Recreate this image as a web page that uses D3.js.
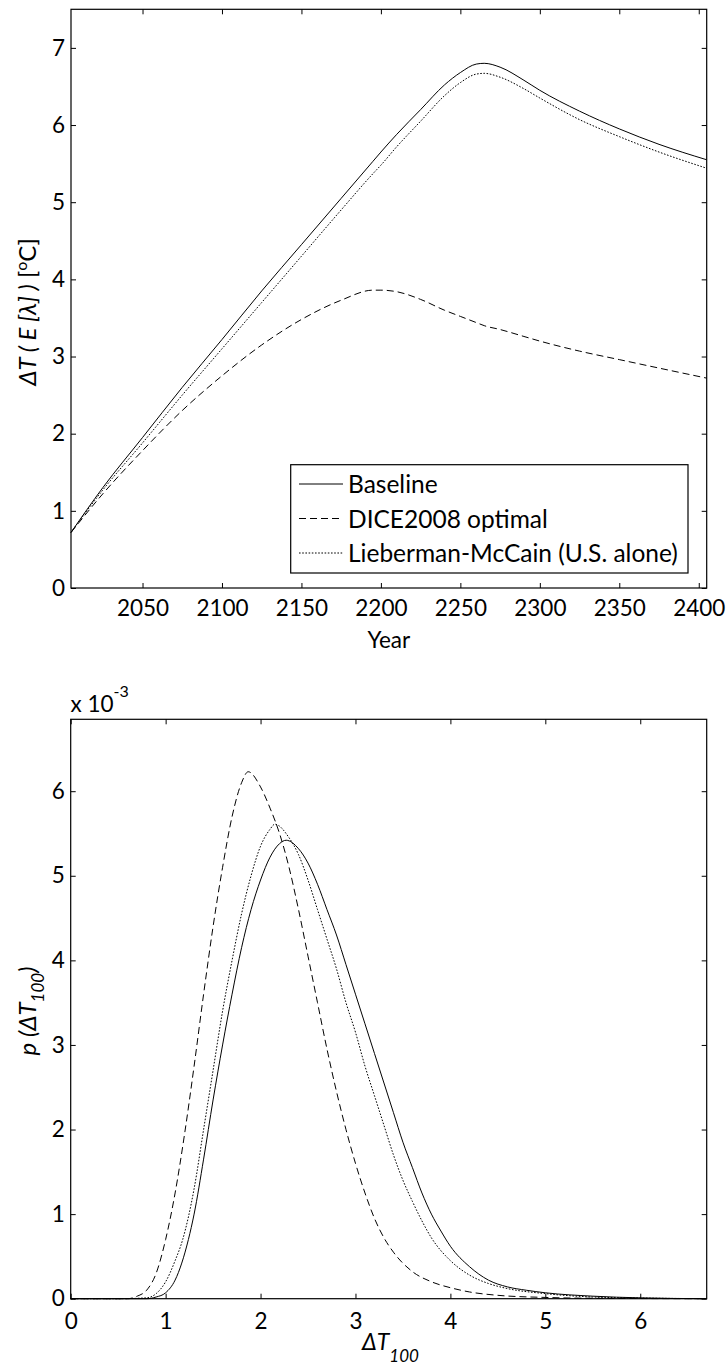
<!DOCTYPE html>
<html>
<head>
<meta charset="utf-8">
<script src="https://cdn.jsdelivr.net/npm/d3@7"></script>
<style>
  body { margin: 0; background: #fff; }
  text { font-family: Lato, "Noto Sans", sans-serif; fill: #000; }
</style>
</head>
<body>
<div id="chart"></div>
<script>
// top panel: temperature path by year
var years = [2005, 2025, 2050, 2075, 2100, 2125, 2150, 2175, 2195, 2200, 2210, 2225, 2240, 2250, 2260, 2265, 2275, 2290, 2300, 2325, 2350, 2375, 2405];
var baseline = [0.72, 1.30, 1.95, 2.60, 3.22, 3.85, 4.45, 5.05, 5.53, 5.65, 5.88, 6.20, 6.52, 6.68, 6.79, 6.80, 6.75, 6.58, 6.45, 6.18, 5.95, 5.75, 5.55];
var dice = [0.72, 1.22, 1.78, 2.30, 2.75, 3.15, 3.48, 3.73, 3.86, 3.86, 3.84, 3.74, 3.60, 3.52, 3.44, 3.40, 3.35, 3.26, 3.20, 3.07, 2.96, 2.85, 2.72];
var lieberman = [0.72, 1.27, 1.88, 2.50, 3.10, 3.70, 4.30, 4.90, 5.37, 5.48, 5.72, 6.05, 6.38, 6.55, 6.66, 6.67, 6.62, 6.47, 6.35, 6.07, 5.85, 5.65, 5.44];
var topYTicks = [0, 1, 2, 3, 4, 5, 6, 7];
var topXTicks = [2050, 2100, 2150, 2200, 2250, 2300, 2350, 2400];
var legendLabels = ["Baseline", "DICE2008 optimal", "Lieberman-McCain (U.S. alone)"];

// bottom panel: densities (x 10^-3)
var tBase = [0, 0.5, 0.8, 0.9, 1.0, 1.1, 1.24, 1.3, 1.4, 1.5, 1.6, 1.7, 1.8, 1.9, 2.0, 2.1, 2.2, 2.27, 2.4, 2.5, 2.6, 2.7, 2.8, 2.9, 3.0, 3.1, 3.2, 3.3, 3.4, 3.5, 3.6, 3.7, 3.8, 3.9, 4.0, 4.2, 4.4, 4.6, 4.8, 5.0, 5.5, 6.0, 6.7];
var pBase = [0, 0, 0, 0.02, 0.07, 0.22, 0.70, 1.0, 1.65, 2.35, 3.0, 3.6, 4.15, 4.6, 4.95, 5.22, 5.38, 5.42, 5.32, 5.15, 4.9, 4.6, 4.3, 3.95, 3.6, 3.25, 2.9, 2.55, 2.2, 1.85, 1.55, 1.25, 1.0, 0.8, 0.62, 0.38, 0.22, 0.14, 0.10, 0.07, 0.03, 0.01, 0];
var tDice = [0, 0.5, 0.6, 0.7, 0.8, 0.9, 1.0, 1.1, 1.2, 1.3, 1.4, 1.5, 1.6, 1.7, 1.8, 1.87, 2.0, 2.1, 2.2, 2.3, 2.4, 2.5, 2.6, 2.7, 2.8, 2.9, 3.0, 3.1, 3.2, 3.3, 3.4, 3.6, 3.8, 4.0, 4.2, 4.5, 5.0, 5.5, 6.7];
var pDice = [0, 0, 0, 0.03, 0.1, 0.3, 0.7, 1.25, 1.95, 2.75, 3.6, 4.4, 5.1, 5.7, 6.1, 6.23, 6.05, 5.8, 5.5, 5.1, 4.6, 4.05, 3.5, 2.95, 2.45, 2.0, 1.6, 1.25, 0.95, 0.72, 0.55, 0.32, 0.2, 0.13, 0.08, 0.04, 0.015, 0.005, 0];
var tLieb = [0, 0.5, 0.8, 0.9, 1.0, 1.1, 1.18, 1.3, 1.4, 1.5, 1.6, 1.7, 1.8, 1.9, 2.0, 2.1, 2.15, 2.3, 2.4, 2.5, 2.6, 2.7, 2.8, 2.9, 3.0, 3.1, 3.2, 3.3, 3.4, 3.5, 3.6, 3.7, 3.8, 4.0, 4.2, 4.4, 4.6, 5.0, 5.5, 6.0, 6.7];
var pLieb = [0, 0, 0.01, 0.06, 0.2, 0.45, 0.7, 1.3, 2.0, 2.7, 3.4, 4.0, 4.55, 5.0, 5.35, 5.55, 5.61, 5.45, 5.25, 4.95, 4.6, 4.25, 3.9, 3.5, 3.15, 2.75, 2.4, 2.05, 1.7, 1.4, 1.15, 0.92, 0.72, 0.45, 0.28, 0.18, 0.12, 0.06, 0.02, 0.008, 0];
var botXTicks = [0, 1, 2, 3, 4, 5, 6];
var botYTicks = [0, 1, 2, 3, 4, 5, 6];

var W = 728, H = 1372;
var FS = 22.5;
var DASH = "7,4", DOT = "1.6,1.6";

var svg = d3.select("#chart").append("svg")
  .attr("width", W).attr("height", H);

function zip(xs, ys) { return xs.map(function (x, i) { return [x, ys[i]]; }); }

function panel(x, y, xt, yt, xpad) {
  var g = svg.append("g");
  var x0 = x.range()[0], x1 = x.range()[1], y0 = y.range()[0], y1 = y.range()[1];
  var fmt = d3.format("d");
  g.append("g").attr("transform", "translate(0," + y0 + ")")
    .call(d3.axisBottom(x).tickValues(xt).tickSize(-5).tickPadding(xpad).tickSizeOuter(0).tickFormat(fmt));
  g.append("g").attr("transform", "translate(0," + y1 + ")")
    .call(d3.axisTop(x).tickValues(xt).tickSize(-5).tickFormat("").tickSizeOuter(0));
  g.append("g").attr("transform", "translate(" + x0 + ",0)")
    .call(d3.axisLeft(y).tickValues(yt).tickSize(-5).tickPadding(6).tickSizeOuter(0).tickFormat(fmt));
  g.append("g").attr("transform", "translate(" + x1 + ",0)")
    .call(d3.axisRight(y).tickValues(yt).tickSize(-5).tickFormat("").tickSizeOuter(0));
  g.selectAll(".domain").remove();
  g.selectAll(".tick line").attr("stroke", "#000");
  g.selectAll(".tick text").style("font-size", FS + "px").style("font-family", "Lato");
  g.append("rect").attr("x", x0).attr("y", y1).attr("width", x1 - x0).attr("height", y0 - y1)
    .attr("fill", "none").attr("stroke", "#000").attr("stroke-width", 1.2);
  return g;
}

function draw(g, x, y, pts, dash) {
  g.append("path").datum(pts)
    .attr("fill", "none").attr("stroke", "#000").attr("stroke-width", 1)
    .attr("stroke-dasharray", dash)
    .attr("d", d3.line().x(function (d) { return x(d[0]); }).y(function (d) { return y(d[1]); })
      .curve(d3.curveMonotoneX));
}

// ---- top panel
var xT = d3.scaleLinear().domain([2005, 2405]).range([71, 706.7]);
var yT = d3.scaleLinear().domain([0, 7.5]).range([588, 9.3]);
var gT = panel(xT, yT, topXTicks, topYTicks, 12);
draw(gT, xT, yT, zip(years, baseline), null);
draw(gT, xT, yT, zip(years, dice), DASH);
draw(gT, xT, yT, zip(years, lieberman), DOT);

// legend
var leg = gT.append("g");
leg.append("rect").attr("x", 290.7).attr("y", 464.7).attr("width", 397.3).attr("height", 108.3)
  .attr("fill", "#fff").attr("stroke", "#000").attr("stroke-width", 1.2);
[null, DASH, DOT].forEach(function (d, i) {
  var ly = 484 + i * 34.5;
  leg.append("line").attr("x1", 299).attr("x2", 343).attr("y1", ly).attr("y2", ly)
    .attr("stroke", "#000").attr("stroke-width", 1).attr("stroke-dasharray", d);
  leg.append("text").attr("x", 348).attr("y", ly + 9).style("font-size", "24.5px")
    .text(legendLabels[i]);
});

gT.append("text").attr("x", 388.8).attr("y", 648).attr("text-anchor", "middle")
  .style("font-size", "22.5px").text("Year");

var yl = gT.append("text").attr("transform", "translate(36,312) rotate(-90)")
  .attr("text-anchor", "middle").style("font-size", "24px");
yl.append("tspan").style("font-style", "italic").text("\u0394T ( E [\u03bb] )");
yl.append("tspan").text(" [");
yl.append("tspan").attr("dy", -9).style("font-size", "16px").text("o");
yl.append("tspan").attr("dy", 9).text("C]");

// ---- bottom panel
var xB = d3.scaleLinear().domain([0, 6.7]).range([70.7, 706.7]);
var yB = d3.scaleLinear().domain([0, 6.85]).range([1298.7, 719.3]);
var gB = panel(xB, yB, botXTicks, botYTicks, 14);
draw(gB, xB, yB, zip(tBase, pBase), null);
draw(gB, xB, yB, zip(tDice, pDice), DASH);
draw(gB, xB, yB, zip(tLieb, pLieb), DOT);

var ex = gB.append("text").attr("x", 70.5).attr("y", 712).style("font-size", "22.5px");
ex.append("tspan").text("x 10");
ex.append("tspan").attr("dy", -15).style("font-size", "16px").text("-3");

var xl = gB.append("text").attr("x", 362).attr("y", 1350).style("font-size", "23px")
  .style("font-style", "italic");
xl.append("tspan").text("\u0394T");
xl.append("tspan").attr("dy", 12).style("font-size", "17px").text("100");

var pl = gB.append("text").attr("transform", "translate(36,1011) rotate(-90)")
  .attr("text-anchor", "middle").style("font-size", "24px").style("font-style", "italic");
pl.append("tspan").text("p (\u0394T");
pl.append("tspan").attr("dy", 8).style("font-size", "17px").text("100");
pl.append("tspan").attr("dy", -8).text(")");
</script>
</body>
</html>
